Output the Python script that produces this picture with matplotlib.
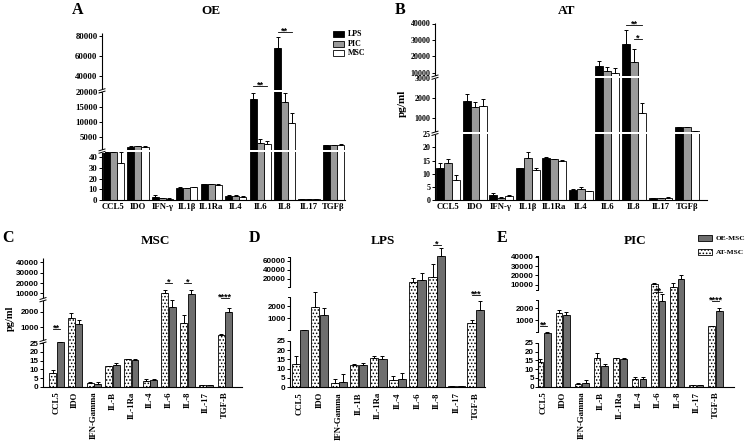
import numpy as np
import matplotlib
matplotlib.use("Agg")
import matplotlib.pyplot as plt
from matplotlib.patches import Rectangle

# ---------------- data ----------------
cats_top = ['CCL5', 'IDO', 'IFN-γ', 'IL1β', 'IL1Ra', 'IL4', 'IL6', 'IL8', 'IL17', 'TGFβ']
cats_c = ['CCL5', 'IDO', 'IFN-Gamma', 'IL-B', 'IL-1Ra', 'IL-4', 'IL-6', 'IL-8', 'IL-17', 'TGF-B']
cats_d = ['CCL5', 'IDO', 'IFN-Gamma', 'IL-1B', 'IL-1Ra', 'IL-4', 'IL-6', 'IL-8', 'IL-17', 'TGF-B']
cats_e = cats_c

# Panel A: OE
oe_lps = [45, 1570, 2.5, 11.5, 15, 4, 17700, 68300, 0.5, 2300]
oe_lps_err = [0, 200, 1.8, 0.5, 0.3, 0.8, 2000, 10400, 0.1, 0]
oe_pic = [45, 1900, 1.5, 11, 15, 3.5, 3000, 16700, 0.5, 2300]
oe_pic_err = [0, 100, 0.8, 0.5, 0.3, 1.2, 1130, 3000, 0.1, 0]
oe_msc = [35, 1670, 1, 12, 14.5, 3, 2570, 9670, 0.5, 2400]
oe_msc_err = [10, 100, 0.5, 0.4, 0.3, 1, 1060, 3130, 0.1, 50]

# Panel B: AT
at_lps = [12, 1865, 1.8, 12, 16, 3.8, 14100, 27500, 0.6, 580]
at_lps_err = [2, 335, 1, 0.2, 0.5, 0.5, 3000, 8500, 0.1, 10]
at_pic = [14, 1580, 0.8, 16, 15.5, 4, 11000, 16300, 0.8, 565]
at_pic_err = [1.5, 250, 0.5, 2.3, 0.2, 1, 2300, 7900, 0.1, 10]
at_msc = [7.5, 1615, 1.5, 11.5, 15, 3.3, 9600, 1250, 0.9, 380]
at_msc_err = [2, 335, 0.5, 0.5, 0.2, 0.3, 3400, 500, 0.1, 10]

# Panel C: MSC (AT-MSC dotted, OE-MSC dark)
msc_at = [7.7, 1590, 1.9, 11.7, 15.8, 3.5, 10000, 1250, 1.0, 455]
msc_at_err = [1.9, 340, 0.6, 0.4, 0.1, 0.7, 3200, 520, 0.1, 90]
msc_oe = [26, 1200, 1.3, 12.5, 15.6, 3.6, 2320, 9400, 0.8, 2000]
msc_oe_err = [0, 280, 1.2, 1.0, 0.2, 1.0, 480, 3500, 0.1, 270]

# Panel D: LPS
lps_at = [12.3, 1890, 2.1, 12, 15.9, 3.9, 12700, 25100, 0.8, 595]
lps_at_err = [4.7, 860, 2.2, 0.3, 0.7, 2.3, 8800, 27600, 0.1, 270]
lps_oe = [95, 1270, 2.7, 11.8, 15.2, 4.3, 17800, 71000, 0.6, 1680]
lps_oe_err = [3, 590, 4.3, 1.4, 1.4, 3.6, 14900, 17000, 0.1, 720]

# Panel E: PIC
pic_at = [14.2, 1580, 1.4, 16.5, 16.1, 4.2, 10500, 8000, 1.0, 525]
pic_at_err = [1.5, 280, 0.7, 2.5, 0.2, 1.1, 1800, 4000, 0.1, 35]
pic_oe = [48, 1440, 2.1, 11.8, 15.9, 4.2, 2610, 15700, 0.8, 1770]
pic_oe_err = [1, 230, 1.5, 1.1, 0.2, 1.3, 1000, 4700, 0.1, 230]

# significance: (group, bar_from, bar_to, y value, label)
sig_a = [(6, 0, 2, 30000, '**'), (7, 0, 2, 84000, '**')]
sig_b = [(7, 0, 2, 39100, '**'), (7, 1, 2, 30400, '*')]
sig_c = [(0, 0, 1, 867, '**'), (6, 0, 1, 20300, '*'), (7, 0, 1, 20300, '*'), (9, 0, 1, 5750, '****')]
sig_d = [(7, 0, 1, 95500, '*'), (9, 0, 1, 2723, '***')]
sig_e = [(0, 0, 1, 525, '**'), (6, 0, 1, 3980, '**'), (9, 0, 1, 2610, '****')]

# ---------------- style ----------------
SERIF = 'Liberation Serif'
SANS = 'Liberation Sans'
plt.rcParams['hatch.linewidth'] = 0.7
plt.rcParams['hatch.color'] = '#7a7a7a'
DARK = '#6e6e6e'

FW, FH = 746, 441
fig = plt.figure(figsize=(FW / 100, FH / 100), dpi=100)


def piecewise(kv, kp):
    kv = np.asarray(kv, float)
    kp = np.asarray(kp, float)

    def make(a, b):
        s0 = (b[1] - b[0]) / (a[1] - a[0])
        s1 = (b[-1] - b[-2]) / (a[-1] - a[-2])

        def f(y):
            y = np.asarray(y, float)
            out = np.interp(y, a, b)
            out = np.where(y < a[0], b[0] + (y - a[0]) * s0, out)
            out = np.where(y > a[-1], b[-1] + (y - a[-1]) * s1, out)
            return out
        return f
    return make(kv, kp), make(kp, kv)


def panel(left, right, bottom, H, kv, kp, xlim, yticks, tickfont, tickfs,
          segs, caps, breaks, bands, xlabels, rot):
    wpx = right - left
    ax = fig.add_axes([left / FW, (FH - bottom) / FH, wpx / FW, H / FH])
    fwd, inv = piecewise(kv, kp)
    ax.set_yscale('function', functions=(fwd, inv))
    ax.set_ylim(0, float(inv(H)))
    ax.set_xlim(*xlim)
    ax.patch.set_alpha(0)
    for s in ['top', 'right', 'left']:
        ax.spines[s].set_visible(False)
    ax.spines['bottom'].set_linewidth(0.8)
    ax.set_yticks(yticks, [str(t) for t in yticks], fontsize=tickfs,
                  fontfamily=tickfont, fontweight='bold')
    ax.tick_params(axis='y', length=2.2, width=0.7, pad=1)
    ax.minorticks_off()
    ax.set_xticks(range(len(xlabels)))
    if rot:
        ax.set_xticklabels(xlabels, rotation=90, fontsize=6.3, fontfamily=SERIF,
                           fontweight='bold', va='top', ha='center')
        ax.tick_params(axis='x', length=0, pad=3.5)
    else:
        ax.set_xticklabels(xlabels, fontsize=6.3, fontfamily=SERIF, fontweight='bold')
        ax.tick_params(axis='x', length=0, pad=2.5)
    tr = ax.transAxes
    for a, b in segs:
        ax.plot([0, 0], [a / H, b / H], transform=tr, color='k', lw=0.8,
                clip_on=False, zorder=6, solid_capstyle='butt')
        if caps:
            for y in (a, b):
                if y > 0:
                    ax.plot([-2.5 / wpx, 0], [y / H, y / H], transform=tr, color='k',
                            lw=0.7, clip_on=False, zorder=6)
    for y in breaks:
        ax.add_patch(Rectangle((-3 / wpx, (y - 1.6) / H), 6 / wpx, 3.2 / H,
                               transform=tr, facecolor='white', edgecolor='none',
                               clip_on=False, zorder=6.5))
        for dy in (-1.2, 1.2):
            ax.plot([-3 / wpx, 3 / wpx], [(y + dy - 0.9) / H, (y + dy + 0.9) / H],
                    transform=tr, color='k', lw=0.7, clip_on=False, zorder=7)
    for lo, hi in bands:
        ax.axhspan(lo, hi, color='white', lw=0, zorder=3)
    return ax


def bars(ax, x, vals, errs, **kw):
    ax.bar(x, vals, edgecolor='black', linewidth=0.6, zorder=2, **kw)
    ax.errorbar(x, vals, yerr=[np.zeros(len(vals)), errs], fmt='none', ecolor='black',
                elinewidth=0.7, capsize=1.4, capthick=0.7, zorder=2.5)


def sigs(ax, items, xpos):
    for g, i0, i1, y, txt in items:
        x0 = g + xpos[i0]
        x1 = g + xpos[i1]
        ax.plot([x0, x1], [y, y], color='k', lw=0.6, zorder=8, clip_on=False)
        ax.annotate(txt, ((x0 + x1) / 2, y), xytext=(0, -1.2), textcoords='offset points',
                    ha='center', va='baseline', fontsize=6.5, fontfamily=SANS,
                    fontweight='bold', zorder=8, annotation_clip=False)


x = np.arange(10)

# ---- Panel A ----
axA = panel(102, 345, 200, 170,
            [0, 45, 500, 20000, 26000, 83000], [0, 48.0, 49.8, 108.3, 110.0, 167.0],
            (-0.47, 9.47),
            [0, 10, 20, 30, 40, 5000, 10000, 15000, 20000, 40000, 60000, 80000],
            SERIF, 6.3,
            [(0, 48.0), (49.8, 108.3), (110.0, 167.0)], False, [48.9, 109.15],
            [(45, 500), (20000, 26000)], cats_top, False)
wA = 0.29
bars(axA, x - wA, oe_lps, oe_lps_err, width=wA, color='black')
bars(axA, x, oe_pic, oe_pic_err, width=wA, color='#9a9a9a')
bars(axA, x + wA, oe_msc, oe_msc_err, width=wA, color='white')
sigs(axA, sig_a, [-wA, 0, wA])

# ---- Panel B ----
axB = panel(435, 707, 200, 177,
            [0, 25, 300, 3000, 8000, 40000], [0, 65.7, 67.7, 121.7, 124.0, 176.5],
            (-0.49, 9.75),
            [0, 5, 10, 15, 20, 25, 1000, 2000, 3000, 10000, 20000, 30000, 40000],
            SERIF, 5.8,
            [(0, 65.7), (67.7, 121.7), (124.0, 177.0)], False, [66.7, 122.85],
            [(25, 300), (3000, 8000)], cats_top, False)
wB = 0.30
bars(axB, x - wB, at_lps, at_lps_err, width=wB, color='black')
bars(axB, x, at_pic, at_pic_err, width=wB, color='#9a9a9a')
bars(axB, x + wB, at_msc, at_msc_err, width=wB, color='white')
sigs(axB, sig_b, [-wB, 0, wB])

# ---- Panel C ----
axC = panel(43, 242, 386.7, 128.4,
            [0, 25.5, 60, 2800, 4100, 40000], [0, 44.3, 45.6, 86.7, 87.3, 124.3],
            (-0.72, 9.92),
            [0, 5, 10, 15, 20, 25, 1000, 2000, 10000, 20000, 30000, 40000],
            SANS, 5.8,
            [(0, 44.3), (45.6, 86.7), (87.3, 128.4)], False, [44.95, 87.0],
            [], cats_c, True)
wC, oC = 0.37, 0.2
bars(axC, x - oC, msc_at, msc_at_err, width=wC, color='white', hatch='.....')
bars(axC, x + oC, msc_oe, msc_oe_err, width=wC, color=DARK)
sigs(axC, sig_c, [-oC, oC])

# ---- Panel D ----
axD = panel(290, 484.5, 387.3, 145,
            [0, 25, 100, 2700, 2800, 69500], [0, 46.6, 57.9, 89.9, 100.56, 130.6],
            (-0.51, 9.44),
            [0, 5, 10, 15, 20, 25, 1000, 2000, 20000, 40000, 60000],
            SANS, 5.8,
            [(0, 46.6), (57.0, 90.0), (100.3, 130.6)], True, [],
            [], cats_d, True)
wD, oD = 0.42, 0.22
bars(axD, x - oD, lps_at, lps_at_err, width=wD, color='white', hatch='.....')
bars(axD, x + oD, lps_oe, lps_oe_err, width=wD, color=DARK)
sigs(axD, sig_d, [-oD, oD])

# ---- Panel E ----
axE = panel(538.3, 734, 386.7, 131.7,
            [0, 25, 50, 2700, 4300, 40000], [0, 44, 55, 86.8, 96.7, 130.0],
            (-0.27, 9.97),
            [0, 5, 10, 15, 20, 25, 1000, 2000, 10000, 20000, 30000, 40000],
            SANS, 5.8,
            [(0, 44), (55, 86.8), (96.7, 131.0)], True, [],
            [], cats_e, True)
wE, oE = 0.34, 0.2
bars(axE, x - oE, pic_at, pic_at_err, width=wE, color='white', hatch='.....')
bars(axE, x + oE, pic_oe, pic_oe_err, width=wE, color=DARK)
sigs(axE, sig_e, [-oE, oE])

# ---------------- overlay texts ----------------
ov = fig.add_axes([0, 0, 1, 1], zorder=20)
ov.set_xlim(0, FW)
ov.set_ylim(FH, 0)
ov.axis('off')
ov.patch.set_alpha(0)

tb = dict(fontfamily=SERIF, fontweight='bold', ha='center', va='center')
for t, xx, yy in [('A', 78, 10), ('B', 400, 10), ('C', 8, 238), ('D', 254, 238), ('E', 502, 238)]:
    ov.text(xx, yy, t, fontsize=11.5, **tb)
for t, xx, yy in [('OE', 211, 11), ('AT', 567, 11), ('MSC', 155, 241), ('LPS', 383, 241), ('PIC', 635, 241)]:
    ov.text(xx, yy, t, fontsize=9.5, **tb)
ov.text(402, 103, 'pg/ml', rotation=90, fontsize=8, **tb)
ov.text(10, 318, 'pg/ml', rotation=90, fontsize=7.5, **tb)

# legend A
for lab, col, yy in [('LPS', 'black', 34), ('PIC', '#9a9a9a', 44), ('MSC', 'white', 53)]:
    ov.add_patch(Rectangle((333, yy - 2.8), 11, 5.6, facecolor=col, edgecolor='black', lw=0.6))
    ov.text(348, yy, lab, fontsize=5.8, fontfamily=SERIF, fontweight='bold', ha='left', va='center')
# legend E
ov.add_patch(Rectangle((698, 235), 14, 6, facecolor=DARK, edgecolor='black', lw=0.6))
ov.text(716, 238, 'OE-MSC', fontsize=5.3, fontfamily=SERIF, fontweight='bold', ha='left', va='center')
ov.add_patch(Rectangle((698, 249), 14, 6, facecolor='white', edgecolor='black', lw=0.6, hatch='.....'))
ov.text(716, 252, 'AT-MSC', fontsize=5.3, fontfamily=SERIF, fontweight='bold', ha='left', va='center')

fig.savefig('out.png', dpi=100)
